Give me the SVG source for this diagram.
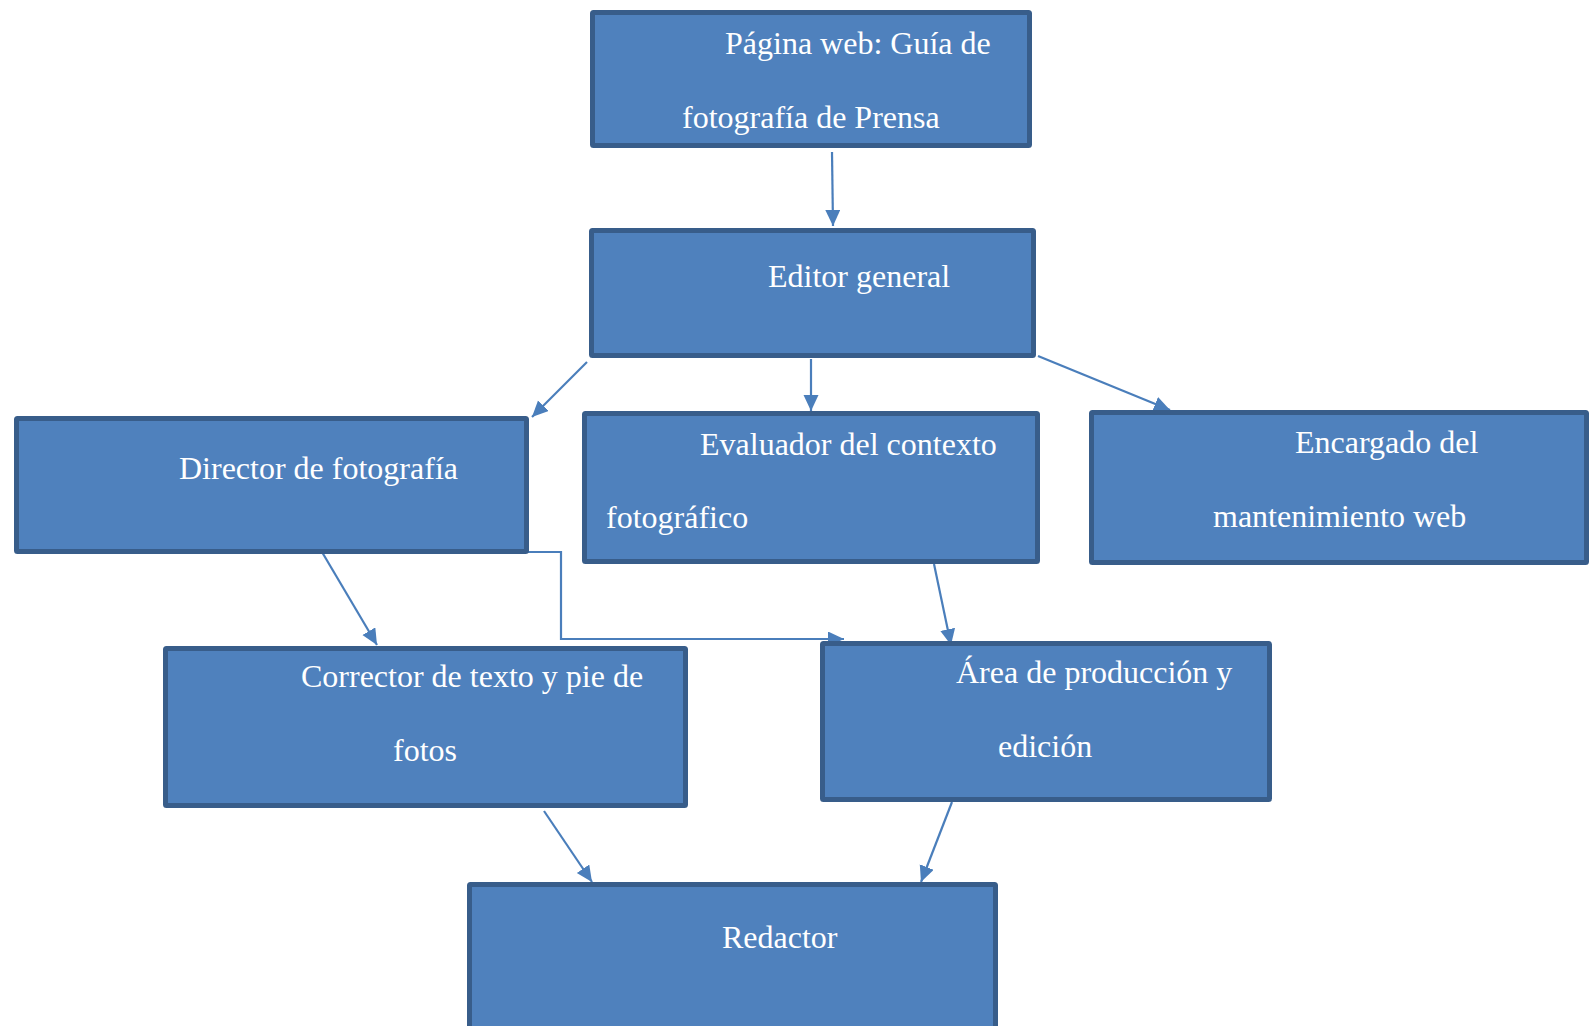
<svg xmlns="http://www.w3.org/2000/svg" width="1589" height="1026" viewBox="0 0 1589 1026">
<style>
.box{fill:#4F81BD;stroke:#385D8A;stroke-width:5}
.t{font-family:"Liberation Serif","Times New Roman",serif;font-size:32px;fill:#FFFFFF}
.c{fill:none;stroke:#4A7EBB;stroke-width:2.2}
</style>
<defs>
<marker id="ah" markerUnits="userSpaceOnUse" markerWidth="17" markerHeight="16" refX="16" refY="7.5" orient="auto">
<path d="M0,0 L16,7.5 L0,15 z" fill="#4A7EBB"/>
</marker>
</defs>
<g id="connectors">
<line class="c" x1="832" y1="152" x2="833" y2="226" marker-end="url(#ah)"/>
<line class="c" x1="587" y1="362" x2="532" y2="417" marker-end="url(#ah)"/>
<line class="c" x1="811" y1="359" x2="811" y2="411" marker-end="url(#ah)"/>
<line class="c" x1="1038" y1="356" x2="1170" y2="410" marker-end="url(#ah)"/>
<line class="c" x1="322" y1="552" x2="377" y2="645" marker-end="url(#ah)"/>
<polyline class="c" points="461,552 561,552 561,639 844,639" marker-end="url(#ah)"/>
<line class="c" x1="934" y1="564" x2="951" y2="645" marker-end="url(#ah)"/>
<line class="c" x1="544" y1="811" x2="592" y2="882" marker-end="url(#ah)"/>
<line class="c" x1="952" y1="802" x2="921" y2="882" marker-end="url(#ah)"/>
</g>
<g id="node-pagina">
<rect class="box" x="592.5" y="12.5" width="437" height="133" rx="1"/>
<text class="t" x="725" y="54">Página web: Guía de</text>
<text class="t" x="682" y="128">fotografía de Prensa</text>
</g>
<g id="node-editor">
<rect class="box" x="591.5" y="230.5" width="442" height="125" rx="1"/>
<text class="t" x="768" y="287">Editor general</text>
</g>
<g id="node-director">
<rect class="box" x="16.5" y="418.5" width="510" height="133" rx="1"/>
<text class="t" x="179" y="479">Director de fotografía</text>
</g>
<g id="node-evaluador">
<rect class="box" x="584.5" y="413.5" width="453" height="148" rx="1"/>
<text class="t" x="700" y="455">Evaluador del contexto</text>
<text class="t" x="606" y="528">fotográfico</text>
</g>
<g id="node-encargado">
<rect class="box" x="1091.5" y="412.5" width="495" height="150" rx="1"/>
<text class="t" x="1295" y="453">Encargado del</text>
<text class="t" x="1213" y="527">mantenimiento web</text>
</g>
<g id="node-corrector">
<rect class="box" x="165.5" y="648.5" width="520" height="157" rx="1"/>
<text class="t" x="301" y="687">Corrector de texto y pie de</text>
<text class="t" x="393" y="761">fotos</text>
</g>
<g id="node-area">
<rect class="box" x="822.5" y="643.5" width="447" height="156" rx="1"/>
<text class="t" x="956" y="683">Área de producción y</text>
<text class="t" x="998" y="757">edición</text>
</g>
<g id="node-redactor">
<rect class="box" x="469.5" y="884.5" width="526" height="160" rx="1"/>
<text class="t" x="722" y="948">Redactor</text>
</g>
</svg>
